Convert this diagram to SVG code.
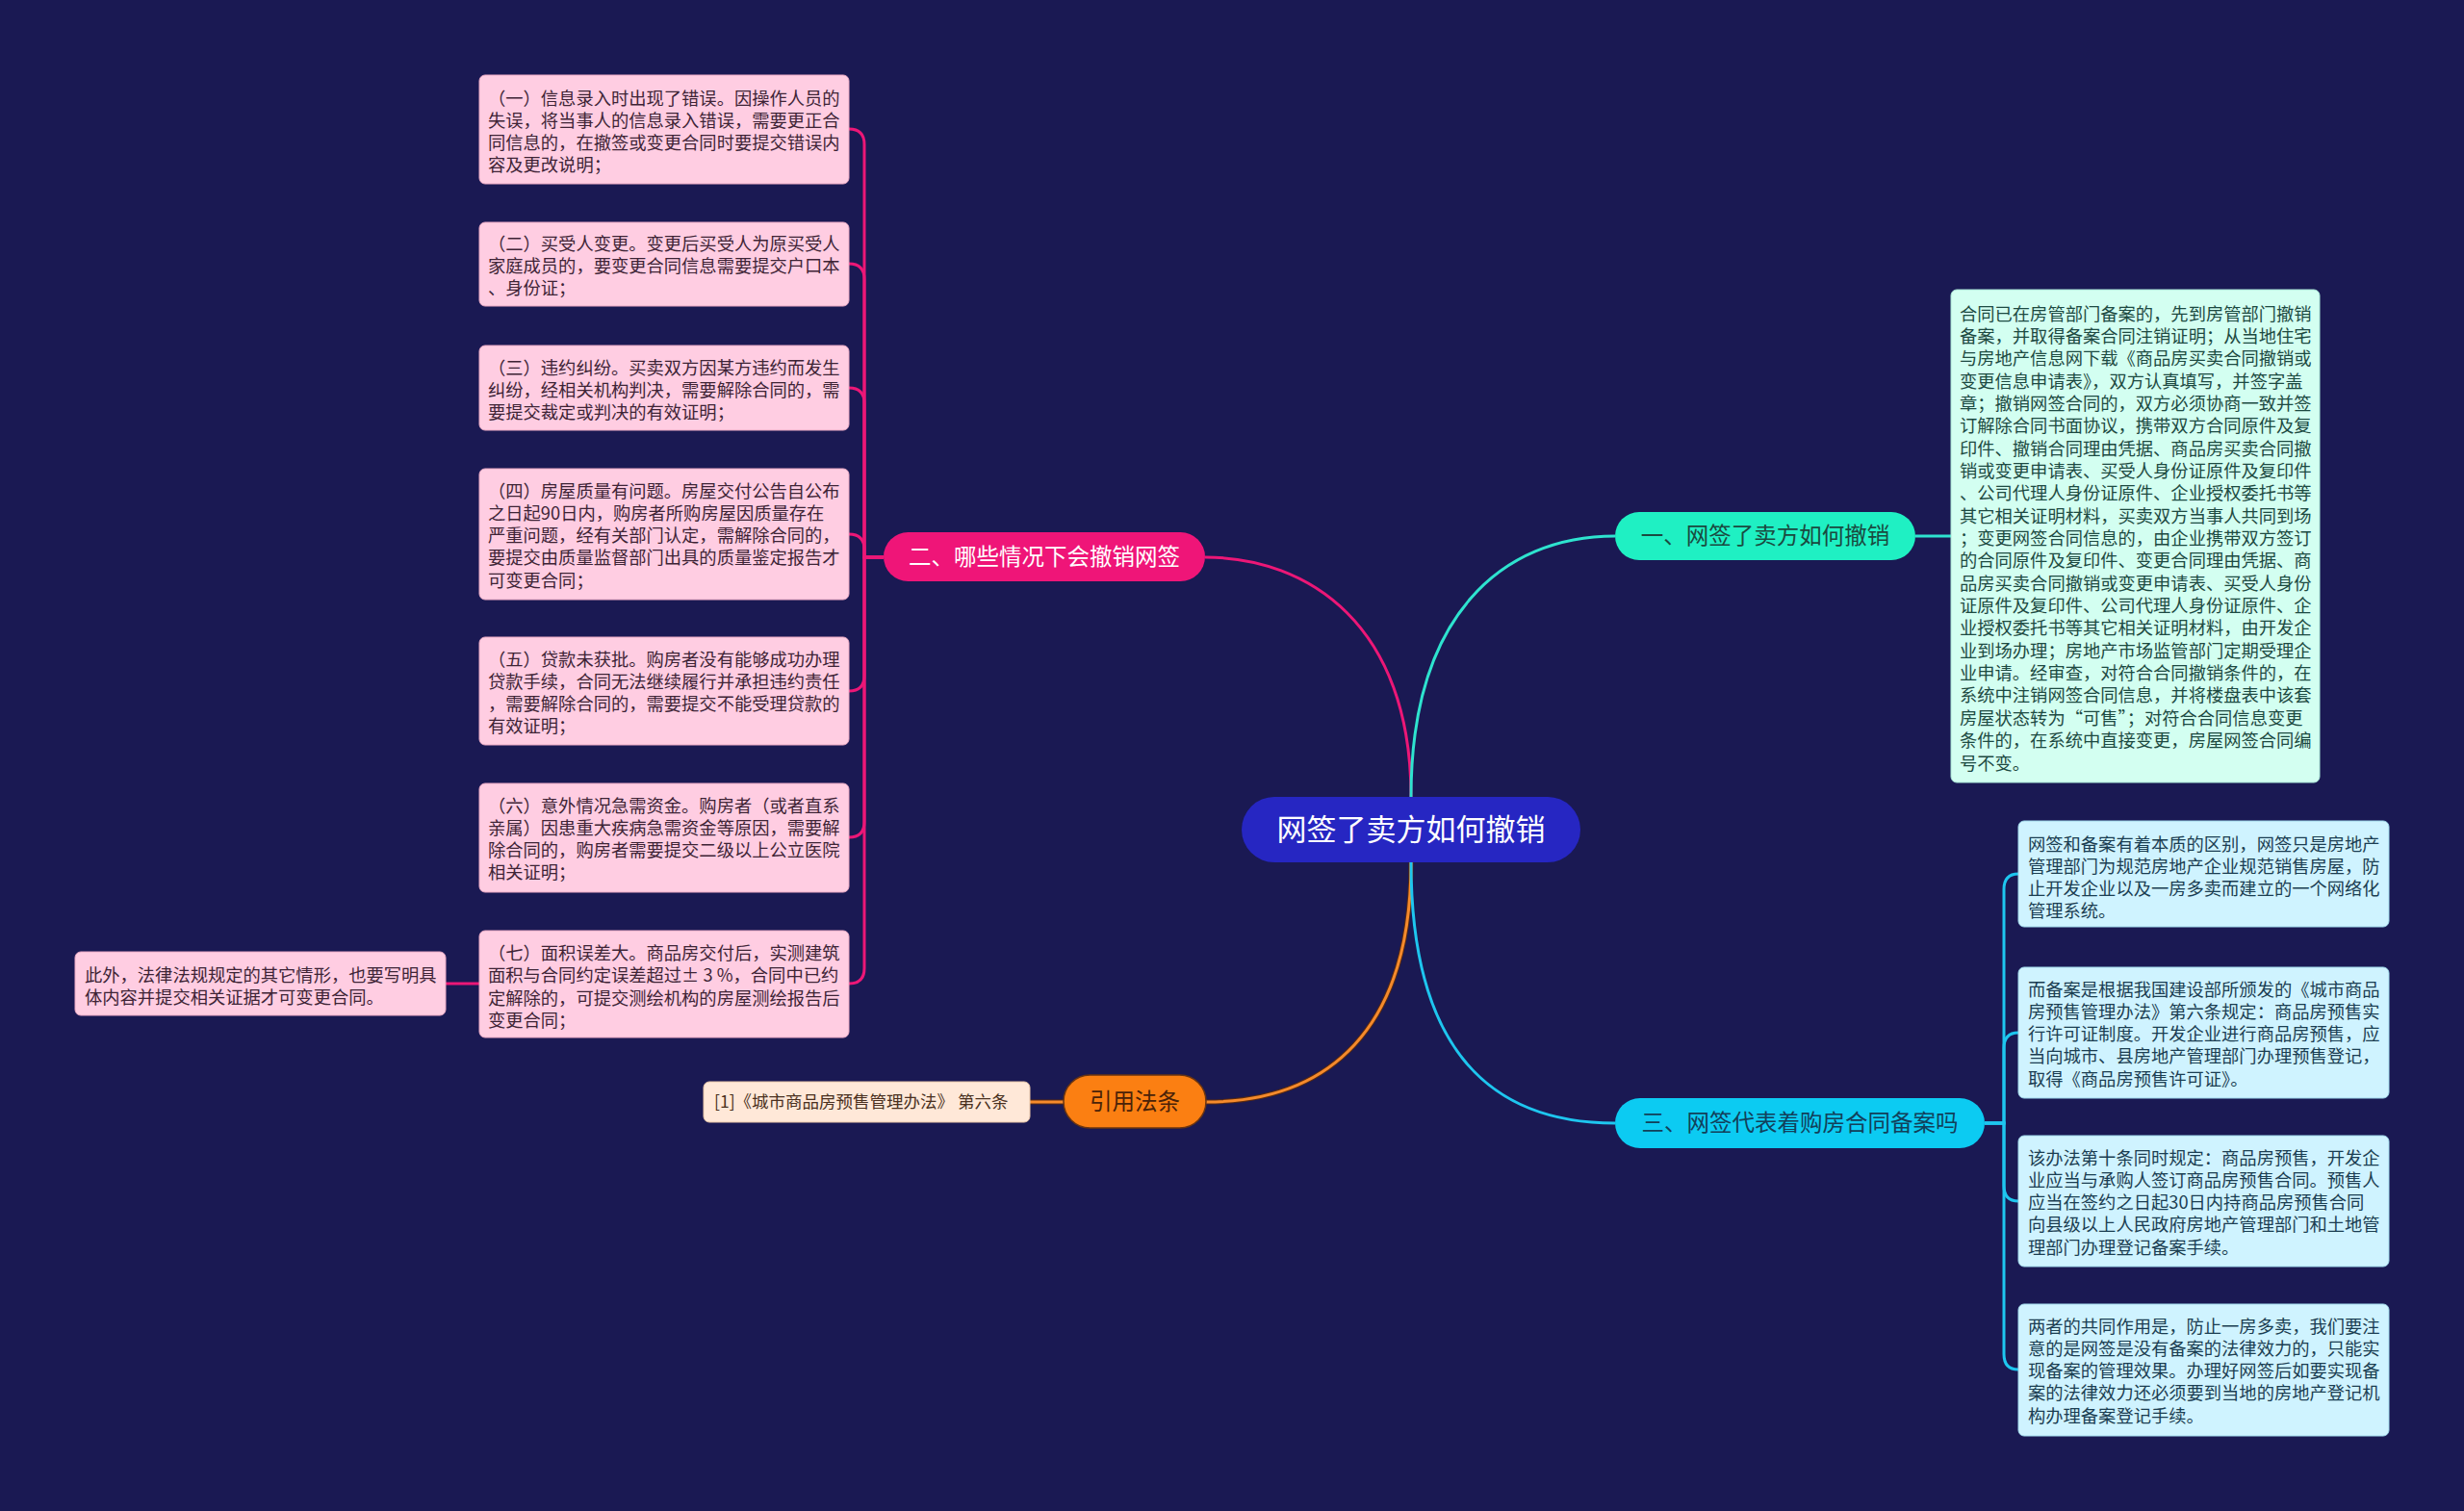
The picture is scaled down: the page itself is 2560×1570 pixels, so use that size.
<svg xmlns="http://www.w3.org/2000/svg" width="2560" height="1570" viewBox="0 0 2560 1570">
<style>
.t{font-family:"Noto Sans CJK SC","Noto Sans",sans-serif;}
.bx{font-size:18.3px;}
.pinkbox{fill:#ffcde2;stroke:#e9a9c4;stroke-width:1;}
.pinkt{fill:#3e2436;}
.mintbox{fill:#d3fff1;stroke:#a9e6d6;stroke-width:1;}
.mintt{fill:#1d4a42;}
.cyanbox{fill:#cff3ff;stroke:#9fd8ea;stroke-width:1;}
.cyant{fill:#1b3e52;}
.lp{fill:none;stroke:#ec1777;stroke-width:3;}
.lt{fill:none;stroke:#2ee3cf;stroke-width:3;}
.lc{fill:none;stroke:#1ec6ef;stroke-width:3;}
.lo{fill:none;stroke:#f58a2c;stroke-width:3;}
.lod{fill:none;stroke:#5a2a10;stroke-width:5;}
</style>
<rect x="0" y="0" width="2560" height="1570" fill="#1a1953"/>

<g id="connectors">
  <!-- center to branches -->
  <path class="lp" d="M1466,828 C1466,650 1360,579 1252,579"/>
  <path class="lt" d="M1466,828 C1466,640 1560,557 1678,557"/>
  <path class="lod" d="M1466,896 C1466,1070 1380,1145 1253,1145"/>
  <path class="lo" d="M1466,896 C1466,1070 1380,1145 1253,1145"/>
  <path class="lc" d="M1466,896 C1466,1080 1540,1167 1678,1167"/>
  <!-- branch 二 to its boxes -->
  <path class="lp" d="M918,579 L898,579 L898,150 Q898,134 882,134"/>
  <path class="lp" d="M918,579 L898,579 L898,290 Q898,274 882,274"/>
  <path class="lp" d="M918,579 L898,579 L898,419 Q898,403 882,403"/>
  <path class="lp" d="M918,579 L898,579 L898,571 Q898,555 882,555"/>
  <path class="lp" d="M918,579 L898,579 L898,702 Q898,718 882,718"/>
  <path class="lp" d="M918,579 L898,579 L898,854 Q898,870 882,870"/>
  <path class="lp" d="M918,579 L898,579 L898,1006 Q898,1022 882,1022"/>
  <path class="lp" d="M498,1022 L463,1022"/>
  <!-- branch 一 -->
  <path class="lt" d="M1990,557 L2027,557"/>
  <!-- branch 三 -->
  <path class="lc" d="M2062,1167 L2082,1167 L2082,924 Q2082,908 2097,908"/>
  <path class="lc" d="M2062,1167 L2082,1167 L2082,1089 Q2082,1073 2097,1073"/>
  <path class="lc" d="M2062,1167 L2082,1167 L2082,1232 Q2082,1248 2097,1248"/>
  <path class="lc" d="M2062,1167 L2082,1167 L2082,1407 Q2082,1423 2097,1423"/>
  <!-- 引用法条 -->
  <path class="lod" d="M1105,1145 L1070,1145"/>
  <path class="lo" d="M1105,1145 L1070,1145"/>
</g>

<g id="center">
  <rect x="1290" y="828" width="352" height="68" rx="34" fill="#2626c2"/>
  <text class="t" x="1466" y="873" font-size="31" fill="#ffffff" text-anchor="middle">网签了卖方如何撤销</text>
</g>

<g id="branch-2">
  <rect x="918" y="553" width="334" height="51" rx="25.5" fill="#ef1578"/>
  <text class="t" x="1085" y="587" font-size="23.5" fill="#ffffff" text-anchor="middle">二、哪些情况下会撤销网签</text>
</g>

<g id="branch-1">
  <rect x="1678" y="532" width="312" height="50" rx="25" fill="#1ff0c3"/>
  <text class="t" x="1834" y="565" font-size="23.5" fill="#1a4a40" text-anchor="middle">一、网签了卖方如何撤销</text>
</g>

<g id="branch-3">
  <rect x="1678" y="1141" width="384" height="52" rx="26" fill="#0ccbf2"/>
  <text class="t" x="1870" y="1175" font-size="23.5" fill="#12405a" text-anchor="middle">三、网签代表着购房合同备案吗</text>
</g>

<g id="branch-ref">
  <rect x="1105" y="1117" width="148" height="55" rx="27.5" fill="#fb7f12" stroke="#6b3510" stroke-width="1.5"/>
  <text class="t" x="1179" y="1153" font-size="23.5" fill="#4a2208" text-anchor="middle">引用法条</text>
</g>

<g id="ref-1">
  <rect x="731" y="1124" width="339" height="42" rx="6" fill="#ffe8d8" stroke="#e8c6a8" stroke-width="1"/>
  <text class="t" x="742" y="1151" font-size="17.5" fill="#4a3020">[1]《城市商品房预售管理办法》 第六条</text>
</g>

<g id="left-1">
  <rect class="pinkbox" x="498" y="78" width="384" height="113" rx="6"/>
  <text class="t bx pinkt" x="507" y="108.5"><tspan x="507">（一）信息录入时出现了错误。因操作人员的</tspan><tspan x="507" dy="23.3">失误，将当事人的信息录入错误，需要更正合</tspan><tspan x="507" dy="23.3">同信息的，在撤签或变更合同时要提交错误内</tspan><tspan x="507" dy="23.3">容及更改说明；</tspan></text>
</g>
<g id="left-2">
  <rect class="pinkbox" x="498" y="231" width="384" height="87" rx="6"/>
  <text class="t bx pinkt" x="507" y="259.5"><tspan x="507">（二）买受人变更。变更后买受人为原买受人</tspan><tspan x="507" dy="23.3">家庭成员的，要变更合同信息需要提交户口本</tspan><tspan x="507" dy="23.3">、身份证；</tspan></text>
</g>
<g id="left-3">
  <rect class="pinkbox" x="498" y="359" width="384" height="88" rx="6"/>
  <text class="t bx pinkt" x="507" y="388.5"><tspan x="507">（三）违约纠纷。买卖双方因某方违约而发生</tspan><tspan x="507" dy="23.3">纠纷，经相关机构判决，需要解除合同的，需</tspan><tspan x="507" dy="23.3">要提交裁定或判决的有效证明；</tspan></text>
</g>
<g id="left-4">
  <rect class="pinkbox" x="498" y="487" width="384" height="136" rx="6"/>
  <text class="t bx pinkt" x="507" y="516.5"><tspan x="507">（四）房屋质量有问题。房屋交付公告自公布</tspan><tspan x="507" dy="23.3">之日起90日内，购房者所购房屋因质量存在</tspan><tspan x="507" dy="23.3">严重问题，经有关部门认定，需解除合同的，</tspan><tspan x="507" dy="23.3">要提交由质量监督部门出具的质量鉴定报告才</tspan><tspan x="507" dy="23.3">可变更合同；</tspan></text>
</g>
<g id="left-5">
  <rect class="pinkbox" x="498" y="662" width="384" height="112" rx="6"/>
  <text class="t bx pinkt" x="507" y="691.5"><tspan x="507">（五）贷款未获批。购房者没有能够成功办理</tspan><tspan x="507" dy="23.3">贷款手续，合同无法继续履行并承担违约责任</tspan><tspan x="507" dy="23.3">，需要解除合同的，需要提交不能受理贷款的</tspan><tspan x="507" dy="23.3">有效证明；</tspan></text>
</g>
<g id="left-6">
  <rect class="pinkbox" x="498" y="814" width="384" height="113" rx="6"/>
  <text class="t bx pinkt" x="507" y="843.5"><tspan x="507">（六）意外情况急需资金。购房者（或者直系</tspan><tspan x="507" dy="23.3">亲属）因患重大疾病急需资金等原因，需要解</tspan><tspan x="507" dy="23.3">除合同的，购房者需要提交二级以上公立医院</tspan><tspan x="507" dy="23.3">相关证明；</tspan></text>
</g>
<g id="left-7">
  <rect class="pinkbox" x="498" y="967" width="384" height="111" rx="6"/>
  <text class="t bx pinkt" x="507" y="997"><tspan x="507">（七）面积误差大。商品房交付后，实测建筑</tspan><tspan x="507" dy="23.3">面积与合同约定误差超过± 3 %，合同中已约</tspan><tspan x="507" dy="23.3">定解除的，可提交测绘机构的房屋测绘报告后</tspan><tspan x="507" dy="23.3">变更合同；</tspan></text>
</g>
<g id="left-7-1">
  <rect class="pinkbox" x="78" y="989" width="385" height="66" rx="6"/>
  <text class="t bx pinkt" x="88" y="1019.5"><tspan x="88">此外，法律法规规定的其它情形，也要写明具</tspan><tspan x="88" dy="23.3">体内容并提交相关证据才可变更合同。</tspan></text>
</g>

<g id="right-1">
  <rect class="mintbox" x="2027" y="301" width="383" height="512" rx="6"/>
  <text class="t bx mintt" x="2036" y="332.5"><tspan x="2036">合同已在房管部门备案的，先到房管部门撤销</tspan><tspan x="2036" dy="23.35">备案，并取得备案合同注销证明；从当地住宅</tspan><tspan x="2036" dy="23.35">与房地产信息网下载《商品房买卖合同撤销或</tspan><tspan x="2036" dy="23.35">变更信息申请表》，双方认真填写，并签字盖</tspan><tspan x="2036" dy="23.35">章；撤销网签合同的，双方必须协商一致并签</tspan><tspan x="2036" dy="23.35">订解除合同书面协议，携带双方合同原件及复</tspan><tspan x="2036" dy="23.35">印件、撤销合同理由凭据、商品房买卖合同撤</tspan><tspan x="2036" dy="23.35">销或变更申请表、买受人身份证原件及复印件</tspan><tspan x="2036" dy="23.35">、公司代理人身份证原件、企业授权委托书等</tspan><tspan x="2036" dy="23.35">其它相关证明材料，买卖双方当事人共同到场</tspan><tspan x="2036" dy="23.35">；变更网签合同信息的，由企业携带双方签订</tspan><tspan x="2036" dy="23.35">的合同原件及复印件、变更合同理由凭据、商</tspan><tspan x="2036" dy="23.35">品房买卖合同撤销或变更申请表、买受人身份</tspan><tspan x="2036" dy="23.35">证原件及复印件、公司代理人身份证原件、企</tspan><tspan x="2036" dy="23.35">业授权委托书等其它相关证明材料，由开发企</tspan><tspan x="2036" dy="23.35">业到场办理；房地产市场监管部门定期受理企</tspan><tspan x="2036" dy="23.35">业申请。经审查，对符合合同撤销条件的，在</tspan><tspan x="2036" dy="23.35">系统中注销网签合同信息，并将楼盘表中该套</tspan><tspan x="2036" dy="23.35">房屋状态转为“可售”；对符合合同信息变更</tspan><tspan x="2036" dy="23.35">条件的，在系统中直接变更，房屋网签合同编</tspan><tspan x="2036" dy="23.35">号不变。</tspan></text>
</g>

<g id="right-3a">
  <rect class="cyanbox" x="2097" y="853" width="385" height="110" rx="6"/>
  <text class="t bx cyant" x="2107" y="883.5"><tspan x="2107">网签和备案有着本质的区别，网签只是房地产</tspan><tspan x="2107" dy="23.3">管理部门为规范房地产企业规范销售房屋，防</tspan><tspan x="2107" dy="23.3">止开发企业以及一房多卖而建立的一个网络化</tspan><tspan x="2107" dy="23.3">管理系统。</tspan></text>
</g>
<g id="right-3b">
  <rect class="cyanbox" x="2097" y="1005" width="385" height="136" rx="6"/>
  <text class="t bx cyant" x="2107" y="1034.5"><tspan x="2107">而备案是根据我国建设部所颁发的《城市商品</tspan><tspan x="2107" dy="23.3">房预售管理办法》第六条规定：商品房预售实</tspan><tspan x="2107" dy="23.3">行许可证制度。开发企业进行商品房预售，应</tspan><tspan x="2107" dy="23.3">当向城市、县房地产管理部门办理预售登记，</tspan><tspan x="2107" dy="23.3">取得《商品房预售许可证》。</tspan></text>
</g>
<g id="right-3c">
  <rect class="cyanbox" x="2097" y="1180" width="385" height="136" rx="6"/>
  <text class="t bx cyant" x="2107" y="1209.5"><tspan x="2107">该办法第十条同时规定：商品房预售，开发企</tspan><tspan x="2107" dy="23.3">业应当与承购人签订商品房预售合同。预售人</tspan><tspan x="2107" dy="23.3">应当在签约之日起30日内持商品房预售合同</tspan><tspan x="2107" dy="23.3">向县级以上人民政府房地产管理部门和土地管</tspan><tspan x="2107" dy="23.3">理部门办理登记备案手续。</tspan></text>
</g>
<g id="right-3d">
  <rect class="cyanbox" x="2097" y="1355" width="385" height="137" rx="6"/>
  <text class="t bx cyant" x="2107" y="1384.5"><tspan x="2107">两者的共同作用是，防止一房多卖，我们要注</tspan><tspan x="2107" dy="23.3">意的是网签是没有备案的法律效力的，只能实</tspan><tspan x="2107" dy="23.3">现备案的管理效果。办理好网签后如要实现备</tspan><tspan x="2107" dy="23.3">案的法律效力还必须要到当地的房地产登记机</tspan><tspan x="2107" dy="23.3">构办理备案登记手续。</tspan></text>
</g>
</svg>
